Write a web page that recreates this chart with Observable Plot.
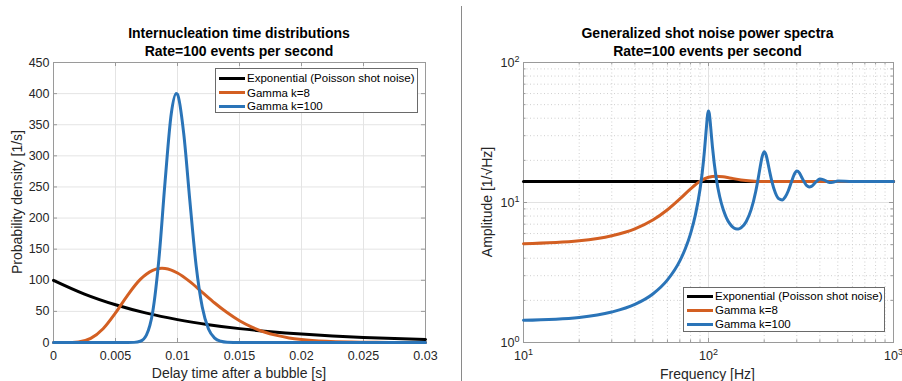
<!DOCTYPE html>
<html><head><meta charset="utf-8">
<script src="https://cdn.jsdelivr.net/npm/d3@7"></script>
<script src="https://cdn.jsdelivr.net/npm/@observablehq/plot@0.6"></script>
<style>
body{margin:0;background:#fff;}
#wrap{position:relative;width:902px;height:381px;overflow:hidden;background:#fff;font-family:"Liberation Sans",Arial,Helvetica,sans-serif;color:#262626;}
.panel{position:absolute;top:0;}
.title{position:absolute;font-weight:bold;font-size:14px;color:#000;text-align:center;white-space:nowrap;transform:translateX(-50%);line-height:18.4px;}
.xlabel{position:absolute;font-size:14px;white-space:nowrap;transform:translate(-50%,-50%);}
.ylabel{position:absolute;font-size:14px;white-space:nowrap;transform:translate(-50%,-50%) rotate(-90deg);}
.legend{position:absolute;background:#fff;border:1px solid #6a6a6a;box-sizing:border-box;font-size:11.5px;color:#000;}
.legend .row{position:absolute;left:3px;height:14px;display:flex;align-items:center;white-space:nowrap;}
.legend .sw{width:26px;height:3px;margin-right:2px;}
.divider{position:absolute;left:461px;top:6px;width:1px;height:375px;background:#8a8a8a;}
</style></head>
<body><div id="wrap"></div>
<script>
// ---------- Left panel: internucleation time distributions ----------
const seriesNames = ["Exponential (Poisson shot noise)", "Gamma k=8", "Gamma k=100"];
const seriesColors = ["#000000", "#d35f22", "#2a74b8"];

const expDelay   = [0, 0.0025, 0.005, 0.0075, 0.01, 0.0125, 0.015, 0.0175, 0.02, 0.0225, 0.025, 0.0275, 0.03];
const expDensity = [100, 77.9, 60.7, 47.2, 36.8, 28.7, 22.3, 17.4, 13.5, 10.5, 8.2, 6.4, 5.0];

const g8Delay   = [0, 0.001, 0.002, 0.003, 0.004, 0.005, 0.006, 0.007, 0.008, 0.0085, 0.00875, 0.009, 0.0095, 0.010, 0.011, 0.012, 0.013, 0.014, 0.015, 0.016, 0.017, 0.018, 0.019, 0.020, 0.022, 0.024, 0.026, 0.028, 0.030];
const g8Density = [0, 0.0, 0.9, 6.6, 22.2, 47.6, 76.7, 101.4, 116.0, 118.9, 119.2, 118.9, 116.3, 111.7, 97.8, 80.7, 63.5, 48.1, 34.9, 24.7, 16.9, 11.4, 7.4, 4.8, 1.9, 0.7, 0.25, 0.1, 0.03];

const g100Delay   = [0, 0.006, 0.0065, 0.007, 0.0075, 0.008, 0.0085, 0.009, 0.0095, 0.0099, 0.010, 0.0105, 0.011, 0.0115, 0.012, 0.0125, 0.013, 0.0135, 0.014, 0.015, 0.03];
const g100Density = [0, 0.0, 0.2, 2.0, 12.3, 49, 134, 259, 368, 400, 398.6, 336, 227, 124, 56.7, 21.7, 7.1, 2.0, 0.5, 0.0, 0];

const delayTicks = [0, 0.005, 0.01, 0.015, 0.02, 0.025, 0.03];
const delayTickLabels = ["0", "0.005", "0.01", "0.015", "0.02", "0.025", "0.03"];
const densityTicks = [0, 50, 100, 150, 200, 250, 300, 350, 400, 450];

// ---------- Right panel: generalized shot noise power spectra ----------
const expFreq = [10, 1000];
const expAmp  = [14.14, 14.14];

const g8Freq = [10, 20, 30, 40, 50, 60, 70, 80, 90, 100, 110, 120, 130, 150, 170, 200, 250, 1000];
const g8Amp  = [5.08, 5.33, 5.79, 6.48, 7.49, 8.87, 10.60, 12.52, 14.17, 15.15, 15.41, 15.26, 14.98, 14.49, 14.24, 14.12, 14.14, 14.14];

const g100Freq = [10, 20, 30, 40, 50, 60, 70, 75, 80, 85, 90, 92.5, 95, 97, 98, 99, 100, 101, 102, 103.5, 105, 110, 115, 120, 125, 130, 140, 145, 150, 160, 170, 180, 185, 190, 195, 200, 205, 210, 215, 220, 230, 240, 250, 260, 270, 280, 290, 300, 310, 320, 340, 350, 360, 380, 400, 420, 450, 470, 500, 600, 1000];
const g100Amp  = [1.44, 1.51, 1.65, 1.87, 2.22, 2.80, 3.83, 4.69, 6.00, 8.19, 12.44, 16.38, 23.10, 32.02, 37.66, 42.81, 45.09, 43.15, 38.47, 30.92, 25.06, 15.03, 10.99, 8.95, 7.78, 7.09, 6.50, 6.47, 6.60, 7.32, 8.89, 11.99, 14.49, 17.78, 21.29, 23.08, 21.78, 18.91, 16.21, 14.16, 11.69, 10.62, 10.44, 10.96, 12.13, 13.88, 15.77, 16.77, 16.28, 15.03, 13.18, 12.93, 13.05, 13.98, 14.72, 14.52, 13.91, 13.95, 14.22, 14.14, 14.14];

const freqTicks = [10, 100, 1000];
const freqTickLabels = ["10^1", "10^2", "10^3"];
const freqMinor = [20, 30, 40, 50, 60, 70, 80, 90, 200, 300, 400, 500, 600, 700, 800, 900];
const ampTicks = [1, 10, 100];
const ampTickLabels = ["10^0", "10^1", "10^2"];
const ampMinor = [2, 3, 4, 5, 6, 7, 8, 9, 20, 30, 40, 50, 60, 70, 80, 90];

// ---------- helpers ----------
const zipRows = (xs, ys) => xs.map((x, i) => ({x, y: ys[i]}));
const FONT = '"Liberation Sans", Arial, Helvetica, sans-serif';
const TEXT = "#262626";
const FRAME = "#9a9a9a";
const wrap = document.getElementById("wrap");

function addDiv(cls, html, styles) {
  const d = document.createElement("div");
  d.className = cls;
  d.innerHTML = html;
  Object.assign(d.style, styles);
  wrap.appendChild(d);
  return d;
}

function addLegend(left, top, width, height, rowTops) {
  const lg = addDiv("legend", "", {left: left + "px", top: top + "px", width: width + "px", height: height + "px"});
  seriesNames.forEach((name, i) => {
    const r = document.createElement("div");
    r.className = "row";
    r.style.top = rowTops[i] + "px";
    r.innerHTML = `<span class="sw" style="background:${seriesColors[i]}"></span><span>${name}</span>`;
    lg.appendChild(r);
  });
}

function superscriptLabels(svg) {
  d3.select(svg).selectAll('g[aria-label="x-axis tick label"] text, g[aria-label="y-axis tick label"] text').each(function() {
    const s = this.textContent;
    if (!s.includes("^")) return;
    const [base, exp] = s.split("^");
    this.textContent = base;
    const ts = document.createElementNS("http://www.w3.org/2000/svg", "tspan");
    ts.setAttribute("font-size", "9px");
    ts.setAttribute("dy", "-0.55em");
    ts.textContent = exp;
    this.appendChild(ts);
  });
}

// ---------- left plot ----------
{
  const W = 450, H = 381, mL = 53, mR = 25, mT = 62, mB = 39;
  const iw = W - mL - mR, ih = H - mT - mB, tk = 4;
  const left = Plot.plot({
    width: W, height: H, marginLeft: mL, marginRight: mR, marginTop: mT, marginBottom: mB,
    style: {fontFamily: FONT, fontSize: "12.5px", color: TEXT, background: "transparent", overflow: "visible"},
    x: {domain: [0, 0.03]},
    y: {domain: [0, 450]},
    marks: [
      Plot.gridX(delayTicks, {x: d => d, stroke: "#e4e4e4", strokeOpacity: 1}),
      Plot.gridY(densityTicks, {y: d => d, stroke: "#e4e4e4", strokeOpacity: 1}),
      Plot.frame({stroke: FRAME}),
      Plot.tickX(delayTicks, {x: d => d, stroke: FRAME, insetTop: ih - tk}),
      Plot.tickX(delayTicks, {x: d => d, stroke: FRAME, insetBottom: ih - tk}),
      Plot.tickY(densityTicks, {y: d => d, stroke: FRAME, insetRight: iw - tk}),
      Plot.tickY(densityTicks, {y: d => d, stroke: FRAME, insetLeft: iw - tk}),
      Plot.axisX(delayTicks, {tickSize: 0, tickPadding: 9, label: null, fill: TEXT,
        tickFormat: d => delayTickLabels[delayTicks.indexOf(d)]}),
      Plot.axisY(densityTicks, {tickSize: 0, tickPadding: 4, label: null, fill: TEXT}),
      Plot.line(zipRows(expDelay, expDensity), {x: "x", y: "y", stroke: seriesColors[0], strokeWidth: 3, curve: "monotone-x"}),
      Plot.line(zipRows(g8Delay, g8Density), {x: "x", y: "y", stroke: seriesColors[1], strokeWidth: 3, curve: "monotone-x"}),
      Plot.line(zipRows(g100Delay, g100Density), {x: "x", y: "y", stroke: seriesColors[2], strokeWidth: 3, curve: "monotone-x"})
    ]
  });
  const p = document.createElement("div");
  p.className = "panel";
  p.style.left = "0px";
  p.appendChild(left);
  wrap.appendChild(p);

  addDiv("title", "Internucleation time distributions<br>Rate=100 events per second", {left: "239px", top: "24px"});
  addDiv("xlabel", "Delay time after a bubble [s]", {left: "239px", top: "373px"});
  addDiv("ylabel", "Probability density [1/s]", {left: "17px", top: "202px"});
  addLegend(215, 68, 203, 45, [2, 16.5, 30]);
}

// ---------- right plot ----------
{
  const W = 440, H = 381, mL = 61, mR = 9, mT = 62, mB = 39;
  const iw = W - mL - mR, ih = H - mT - mB, tk = 4, tkm = 2.5;
  const right = Plot.plot({
    width: W, height: H, marginLeft: mL, marginRight: mR, marginTop: mT, marginBottom: mB,
    style: {fontFamily: FONT, fontSize: "12.5px", color: TEXT, background: "transparent", overflow: "visible"},
    x: {type: "log", domain: [10, 1000]},
    y: {type: "log", domain: [1, 100]},
    marks: [
      Plot.gridX(freqMinor, {x: d => d, stroke: "#cfcfcf", strokeOpacity: 1, strokeDasharray: "1,2.5"}),
      Plot.gridY(ampMinor, {y: d => d, stroke: "#cfcfcf", strokeOpacity: 1, strokeDasharray: "1,2.5"}),
      Plot.gridX(freqTicks, {x: d => d, stroke: "#e2e2e2", strokeOpacity: 1}),
      Plot.gridY(ampTicks, {y: d => d, stroke: "#e2e2e2", strokeOpacity: 1}),
      Plot.frame({stroke: FRAME}),
      Plot.tickX(freqTicks, {x: d => d, stroke: FRAME, insetTop: ih - tk}),
      Plot.tickX(freqTicks, {x: d => d, stroke: FRAME, insetBottom: ih - tk}),
      Plot.tickY(ampTicks, {y: d => d, stroke: FRAME, insetRight: iw - tk}),
      Plot.tickY(ampTicks, {y: d => d, stroke: FRAME, insetLeft: iw - tk}),
      Plot.tickX(freqMinor, {x: d => d, stroke: FRAME, insetTop: ih - tkm}),
      Plot.tickX(freqMinor, {x: d => d, stroke: FRAME, insetBottom: ih - tkm}),
      Plot.tickY(ampMinor, {y: d => d, stroke: FRAME, insetRight: iw - tkm}),
      Plot.tickY(ampMinor, {y: d => d, stroke: FRAME, insetLeft: iw - tkm}),
      Plot.axisX(freqTicks, {tickSize: 0, tickPadding: 9, label: null, fill: TEXT,
        tickFormat: d => freqTickLabels[freqTicks.indexOf(d)]}),
      Plot.axisY(ampTicks, {tickSize: 0, tickPadding: 4, label: null, fill: TEXT,
        tickFormat: d => ampTickLabels[ampTicks.indexOf(d)]}),
      Plot.line(zipRows(expFreq, expAmp), {x: "x", y: "y", stroke: seriesColors[0], strokeWidth: 3, curve: "monotone-x"}),
      Plot.line(zipRows(g8Freq, g8Amp), {x: "x", y: "y", stroke: seriesColors[1], strokeWidth: 3, curve: "monotone-x"}),
      Plot.line(zipRows(g100Freq, g100Amp), {x: "x", y: "y", stroke: seriesColors[2], strokeWidth: 3, curve: "monotone-x"})
    ]
  });
  superscriptLabels(right);
  const p = document.createElement("div");
  p.className = "panel";
  p.style.left = "462px";
  p.appendChild(right);
  wrap.appendChild(p);

  addDiv("title", "Generalized shot noise power spectra<br>Rate=100 events per second", {left: "707.5px", top: "24px"});
  addDiv("xlabel", "Frequency [Hz]", {left: "707.5px", top: "374px"});
  addDiv("ylabel", "Amplitude [1/\u221AHz]", {left: "487px", top: "202px"});
  addLegend(683, 287, 202, 45, [1, 15.3, 29.3]);
}

addDiv("divider", "", {});
</script>
</body></html>
